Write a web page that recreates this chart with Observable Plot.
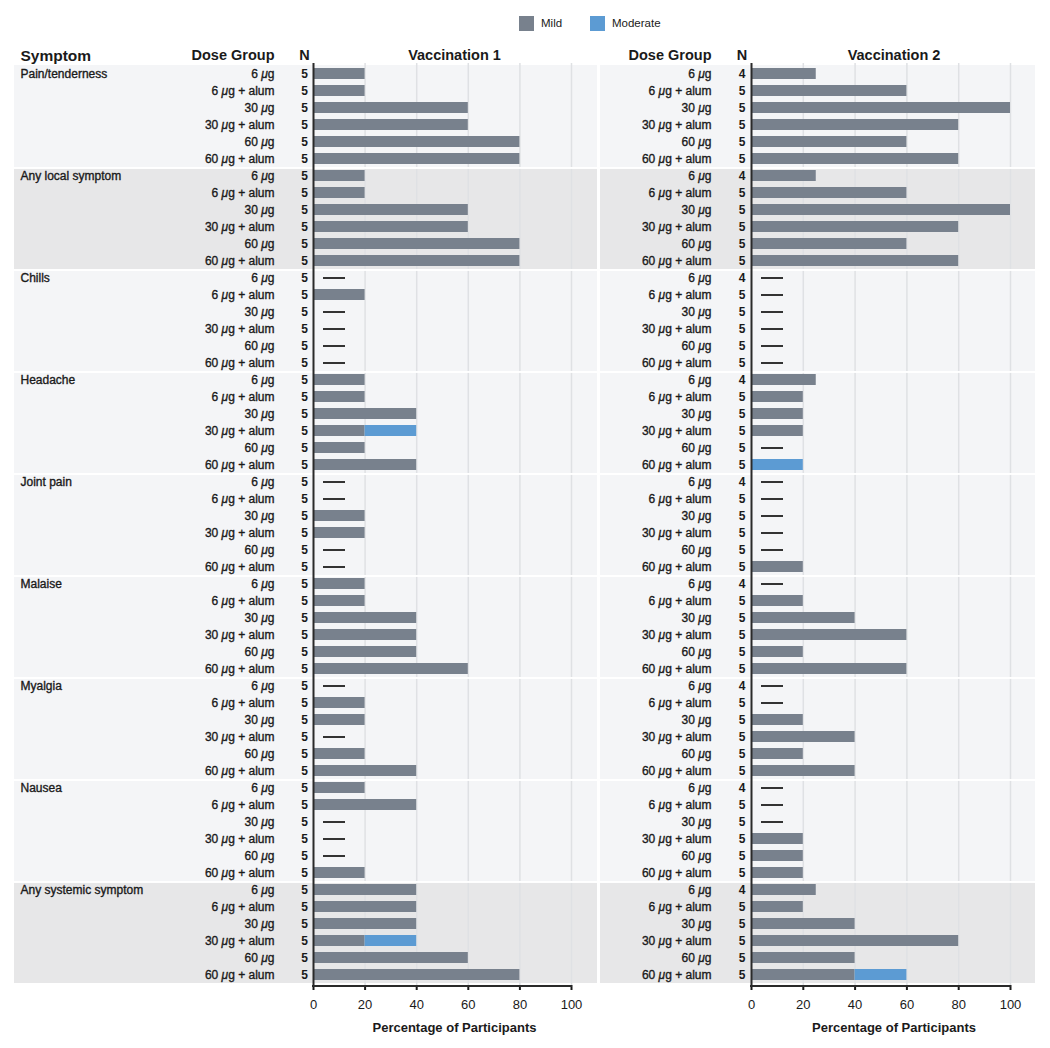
<!DOCTYPE html>
<html>
<head>
<meta charset="utf-8">
<script src="https://cdn.jsdelivr.net/npm/d3@7"></script>
<script src="https://cdn.jsdelivr.net/npm/@observablehq/plot@0.6"></script>
<style>
  html, body { margin: 0; padding: 0; background: #ffffff; }
  body { font-family: "Liberation Sans", Arial, Helvetica, sans-serif; color: #1a1a1a; }
  #page { width: 1050px; position: relative; }
  #legend { position: relative; height: 40px; width: 1050px; }
  .sw { position: absolute; top: 16px; width: 15px; height: 15px; }
  .lt { position: absolute; top: 17px; font-size: 11.5px; line-height: 13px; color: #1a1a1a; }
  #panels { display: flex; flex-direction: row; align-items: flex-start; }
  #panels svg { display: block; }
</style>
</head>
<body>
<div id="page">
  <div id="legend"></div>
  <div id="panels"></div>
</div>
<script>
// ---------------- data ----------------
const symptoms = ["Pain/tenderness", "Any local symptom", "Chills", "Headache", "Joint pain", "Malaise", "Myalgia", "Nausea", "Any systemic symptom"];
const summarySymptoms = ["Any local symptom", "Any systemic symptom"];
const doseGroups = ["6 μg", "6 μg + alum", "30 μg", "30 μg + alum", "60 μg", "60 μg + alum"];
const severities = ["Mild", "Moderate"];
const nVacc1 = [5, 5, 5, 5, 5, 5];
const nVacc2 = [4, 5, 5, 5, 5, 5];

// percentages, one row per symptom, one column per dose group
const mildVacc1 = [
  [20, 20, 60, 60, 80, 80],
  [20, 20, 60, 60, 80, 80],
  [0, 20, 0, 0, 0, 0],
  [20, 20, 40, 20, 20, 40],
  [0, 0, 20, 20, 0, 0],
  [20, 20, 40, 40, 40, 60],
  [0, 20, 20, 0, 20, 40],
  [20, 40, 0, 0, 0, 20],
  [40, 40, 40, 20, 60, 80]
];
const moderateVacc1 = [
  [0, 0, 0, 0, 0, 0],
  [0, 0, 0, 0, 0, 0],
  [0, 0, 0, 0, 0, 0],
  [0, 0, 0, 20, 0, 0],
  [0, 0, 0, 0, 0, 0],
  [0, 0, 0, 0, 0, 0],
  [0, 0, 0, 0, 0, 0],
  [0, 0, 0, 0, 0, 0],
  [0, 0, 0, 20, 0, 0]
];
const mildVacc2 = [
  [25, 60, 100, 80, 60, 80],
  [25, 60, 100, 80, 60, 80],
  [0, 0, 0, 0, 0, 0],
  [25, 20, 20, 20, 0, 0],
  [0, 0, 0, 0, 0, 20],
  [0, 20, 40, 60, 20, 60],
  [0, 0, 20, 40, 20, 40],
  [0, 0, 0, 20, 20, 20],
  [25, 20, 40, 80, 40, 40]
];
const moderateVacc2 = [
  [0, 0, 0, 0, 0, 0],
  [0, 0, 0, 0, 0, 0],
  [0, 0, 0, 0, 0, 0],
  [0, 0, 0, 0, 0, 20],
  [0, 0, 0, 0, 0, 0],
  [0, 0, 0, 0, 0, 0],
  [0, 0, 0, 0, 0, 0],
  [0, 0, 0, 0, 0, 0],
  [0, 0, 0, 0, 0, 20]
];
const xTicks = [0, 20, 40, 60, 80, 100];
const gridTicks = [20, 40, 60, 80, 100];
const panelTitles = ["Vaccination 1", "Vaccination 2"];
const headerSymptom = "Symptom";
const headerDose = "Dose Group";
const headerN = "N";
const axisTitle = "Percentage of Participants";

// ---------------- style ----------------
const FONT = '"Liberation Sans", Arial, Helvetica, sans-serif';
const severityColors = ["#78818d", "#5c9bd3"];
const lightBand = "#f4f5f7";
const darkBand = "#e7e7e8";
const gridColor = "#dfe1e4";
const ink = "#1a1a1a";
const H = 1005, MT = 23, MB = 60;

// ---------------- legend ----------------
const legend = document.getElementById("legend");
const legendPos = [[519, 541], [590, 612]];
severities.forEach((s, i) => {
  const sw = document.createElement("div");
  sw.className = "sw"; sw.style.left = legendPos[i][0] + "px"; sw.style.background = severityColors[i];
  const lt = document.createElement("div");
  lt.className = "lt"; lt.style.left = legendPos[i][1] + "px"; lt.textContent = s;
  legend.appendChild(sw); legend.appendChild(lt);
});

function makePanel(cfg) {
  const {title, mild, moderate, nList, width, marginLeft, marginRight, bandLeft, bandRight, doseDx, nDx, titleDx, showSymptom} = cfg;
  const rows = [];
  const bars = [];
  symptoms.forEach((s, si) => doseGroups.forEach((d, di) => {
    const key = s + "|" + d;
    rows.push({key, symptom: s, dose: d, n: nList[di], first: di === 0, groupIndex: si,
      summary: summarySymptoms.includes(s), total: mild[si][di] + moderate[si][di]});
    if (mild[si][di] > 0) bars.push({key, severity: "Mild", value: mild[si][di]});
    if (moderate[si][di] > 0) bars.push({key, severity: "Moderate", value: moderate[si][di]});
  }));
  const rowH = (H - MT - MB) / rows.length;
  const bandInset = {insetLeft: -bandLeft, insetRight: -bandRight};
  const labelStyle = {fontSize: 12, fill: ink, stroke: ink, strokeWidth: 0.35};
  const headStyle = {fontSize: 14.5, fontWeight: "bold", fill: ink};
  const marks = [
    Plot.cell(rows.filter(r => !r.summary), {y: "key", fill: lightBand, ...bandInset, shapeRendering: "crispEdges"}),
    Plot.cell(rows.filter(r => r.summary), {y: "key", fill: darkBand, ...bandInset, shapeRendering: "crispEdges"}),
    Plot.ruleX(gridTicks, {stroke: gridColor, strokeWidth: 1.5}),
    Plot.cell(rows.filter(r => r.first && r.groupIndex > 0), {y: "key", fill: "#ffffff", ...bandInset, insetBottom: rowH - 2}),
    Plot.barX(bars, {y: "key", x: "value", fill: "severity", insetTop: 3, insetBottom: 3}),
    Plot.ruleY(rows.filter(r => r.total === 0), {y: "key", x1: "total", x2: "total", stroke: "#333333", strokeWidth: 2, insetLeft: 10, insetRight: -32}),
    Plot.ruleX([0], {stroke: "#2a2a2a", strokeWidth: 2}),
    Plot.text(rows, {y: "key", text: "dose", frameAnchor: "left", dx: doseDx, textAnchor: "end", ...labelStyle}),
    Plot.text(rows, {y: "key", text: d => String(d.n), frameAnchor: "left", dx: nDx, textAnchor: "middle", fontSize: 12, fontWeight: "bold", fill: ink}),
    Plot.text([headerDose], {frameAnchor: "top-left", dx: doseDx, dy: -14, textAnchor: "end", ...headStyle}),
    Plot.text([headerN], {frameAnchor: "top-left", dx: nDx, dy: -14, textAnchor: "middle", ...headStyle}),
    Plot.text([title], {frameAnchor: "top", dx: titleDx, dy: -14, ...headStyle}),
    Plot.text([axisTitle], {frameAnchor: "bottom", dx: titleDx, dy: 46, fontSize: 13, fontWeight: "bold", fill: ink})
  ];
  if (showSymptom) {
    marks.push(Plot.text(rows.filter(r => r.first), {y: "key", text: "symptom", frameAnchor: "left", dx: -293, textAnchor: "start", ...labelStyle}));
    marks.push(Plot.text([headerSymptom], {frameAnchor: "top-left", dx: -293, dy: -14, textAnchor: "start", ...headStyle, fontSize: 15.5}));
  }
  const plot = Plot.plot({
    width, height: H, marginTop: MT, marginBottom: MB, marginLeft, marginRight,
    style: {fontFamily: FONT, fontSize: "13px", color: ink, background: "transparent", overflow: "visible"},
    x: {domain: [0, 100], ticks: xTicks, tickSize: 5, tickPadding: 9, label: null, tickFormat: d => String(d)},
    y: {domain: rows.map(r => r.key), axis: null, padding: 0},
    color: {domain: severities, range: severityColors},
    marks
  });
  // axis baseline drawn from the x scale
  const sx = plot.scale("x");
  d3.select(plot).append("line")
    .attr("x1", sx.apply(xTicks[0]) - 1).attr("x2", sx.apply(xTicks[xTicks.length - 1]) + 1)
    .attr("y1", H - MB + 1).attr("y2", H - MB + 1)
    .attr("stroke", "#2a2a2a").attr("stroke-width", 2);
  // italic mu as in the reference
  d3.select(plot).selectAll("text").each(function() {
    const t = this.textContent;
    if (this.childElementCount === 0 && t.includes("μ")) {
      const parts = t.split("μ");
      const sel = d3.select(this).text(null);
      parts.forEach((p, i) => {
        if (i > 0) sel.append("tspan").attr("font-style", "italic").text("μ");
        if (p) sel.append("tspan").text(p);
      });
    }
  });
  return plot;
}

const panels = document.getElementById("panels");
panels.appendChild(makePanel({title: panelTitles[0], mild: mildVacc1, moderate: moderateVacc1, nList: nVacc1,
  width: 598, marginLeft: 313, marginRight: 27, bandLeft: 299, bandRight: 26, doseDx: -39, nDx: -9, titleDx: 12, showSymptom: true}));
panels.appendChild(makePanel({title: panelTitles[1], mild: mildVacc2, moderate: moderateVacc2, nList: nVacc2,
  width: 452, marginLeft: 153, marginRight: 40, bandLeft: 151, bandRight: 25, doseDx: -40, nDx: -9.5, titleDx: 13, showSymptom: false}));

d3.selectAll("#panels svg g[aria-label='x-axis tick']").attr("stroke-width", 2);
</script>
</body>
</html>
